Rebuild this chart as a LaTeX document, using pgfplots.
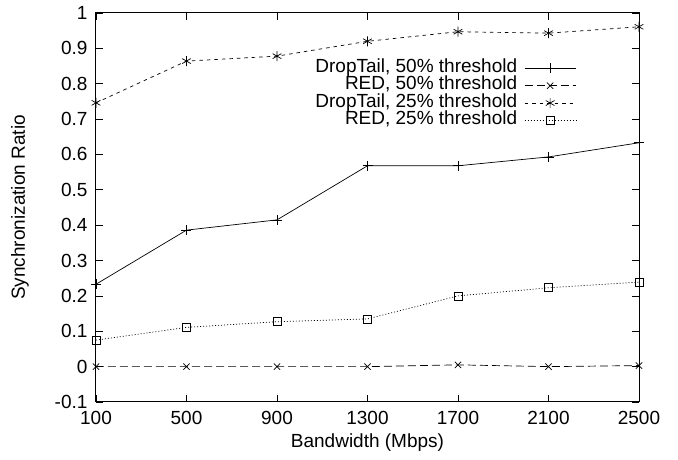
\documentclass[border=0pt]{standalone}
\usepackage{pgfplots}
\pgfplotsset{compat=1.18}
\usepackage{fontspec}
\setmainfont{Liberation Sans}
\begin{document}
\begin{tikzpicture}[font=\fontsize{19}{22}\selectfont]
\begin{axis}[
  anchor=south west, at={(0,0)},
  scale only axis, width=543pt, height=389pt,
  xmin=100, xmax=2500, ymin=-0.1, ymax=1,
  xtick={100,500,900,1300,1700,2100,2500},
  ytick={-0.1,0,0.1,0.2,0.3,0.4,0.5,0.6,0.7,0.8,0.9,1},
  yticklabels={-0.1,0,0.1,0.2,0.3,0.4,0.5,0.6,0.7,0.8,0.9,1},
  xticklabels={100,500,900,1300,1700,2100,2500},
  /pgf/number format/assume math mode=true,
  xticklabel style={yshift=-6pt},
  yticklabel style={xshift=-5pt},
  tick align=inside, major tick length=7pt,
  tick style={black, line width=0.8pt},
  axis line style={line width=1pt},
  xlabel={Bandwidth (Mbps)}, ylabel={Synchronization Ratio},
  every axis x label/.style={at={(axis description cs:0.5,-0.105)}, anchor=center},
  every axis y label/.style={at={(axis description cs:-0.14,0.5)}, rotate=90, anchor=center},
  every axis plot/.append style={black, line width=0.7pt},
  legend plot pos=right,
  legend cell align=right,
  legend style={draw=none, fill=none, at={(0.89,0.885)}, anchor=north east,
    nodes={inner sep=1pt, text height=11.5pt, text depth=3.5pt}, row sep=0.3pt, column sep=6pt},
  legend image code/.code={\draw[mark repeat=2,mark phase=2] plot coordinates {(0cm,0cm) (0.9cm,0cm) (1.8cm,0cm)};},
]
\addplot[solid, mark=+, mark size=5pt, mark options={solid}] coordinates {
 (100,0.233) (500,0.386) (900,0.415) (1300,0.568) (1700,0.568) (2100,0.593) (2500,0.633)};
\addlegendentry{DropTail, 50\% threshold}
\addplot[dash pattern=on 8pt off 4pt, mark=x, mark size=4.5pt, mark options={solid}] coordinates {
 (100,0) (500,0) (900,0) (1300,0) (1700,0.005) (2100,0) (2500,0.003)};
\addlegendentry{RED, 50\% threshold}
\addplot[dash pattern=on 3.5pt off 4pt, mark=asterisk, mark size=5pt, mark options={solid}] coordinates {
 (100,0.746) (500,0.864) (900,0.878) (1300,0.92) (1700,0.947) (2100,0.943) (2500,0.961)};
\addlegendentry{DropTail, 25\% threshold}
\addplot[dash pattern=on 1pt off 2pt, mark=square, mark size=4pt, mark options={solid}] coordinates {
 (100,0.075) (500,0.111) (900,0.127) (1300,0.135) (1700,0.200) (2100,0.223) (2500,0.239)};
\addlegendentry{RED, 25\% threshold}
\end{axis}
\useasboundingbox (-96pt,-58pt) rectangle (582pt,402pt);
\end{tikzpicture}
\end{document}
